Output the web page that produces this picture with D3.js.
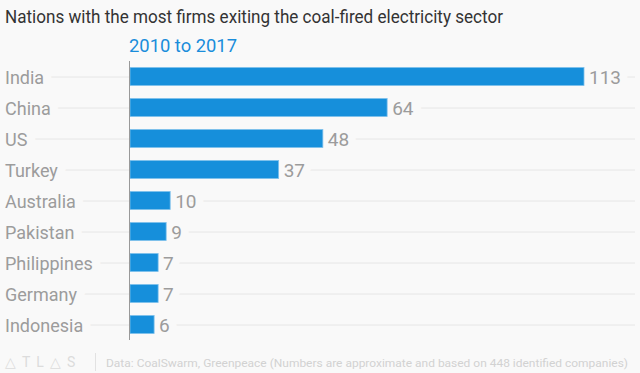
<!DOCTYPE html>
<html>
<head>
<meta charset="utf-8">
<script src="https://cdn.jsdelivr.net/npm/d3@7"></script>
<style>
  body { margin: 0; background: #f9f9f9; }
  svg { display: block; }
  text { font-family: Roboto, "Noto Sans", sans-serif; }
</style>
</head>
<body>
<div id="chart"></div>
<script>
var countries = ['India', 'China', 'US', 'Turkey', 'Australia', 'Pakistan', 'Philippines', 'Germany', 'Indonesia'];
var firms = [113, 64, 48, 37, 10, 9, 7, 7, 6];

var width = 640,
  height = 373,
  bg = '#f9f9f9';

var data = countries.map((c, i) => ({ country: c, value: firms[i] }));

var svg = d3.select('#chart').append('svg')
  .attr('width', width)
  .attr('height', height);

svg.append('rect')
  .attr('width', width)
  .attr('height', height)
  .attr('fill', bg);

var x = d3.scaleLinear()
  .domain([0, 113])
  .range([130, 584]);

var y = d3.scaleBand()
  .domain(countries)
  .range([61, 340])
  .paddingInner(0.42)
  .paddingOuter(0.21);

// title
svg.append('text')
  .attr('x', 5)
  .attr('y', 23)
  .attr('fill', '#333')
  .attr('font-size', 19)
  .attr('textLength', 498)
  .attr('lengthAdjust', 'spacingAndGlyphs')
  .text('Nations with the most firms exiting the coal-fired electricity sector');

svg.append('text')
  .attr('x', 129)
  .attr('y', 52)
  .attr('fill', '#1a8ddb')
  .attr('font-size', 18)
  .attr('textLength', 108)
  .attr('lengthAdjust', 'spacingAndGlyphs')
  .text('2010 to 2017');

// grid lines through the bar centres
svg.append('g')
  .selectAll('line')
  .data(data)
  .join('line')
  .attr('x1', 0)
  .attr('x2', 635)
  .attr('y1', d => y(d.country) + y.bandwidth() / 2 + 0.5)
  .attr('y2', d => y(d.country) + y.bandwidth() / 2 + 0.5)
  .attr('stroke', '#e6e6e6')
  .attr('stroke-width', 1);

// category labels, stroked with background to cut the grid
svg.append('g')
  .selectAll('text')
  .data(data)
  .join('text')
  .attr('x', 5)
  .attr('y', d => y(d.country) + y.bandwidth() / 2 + 7)
  .attr('fill', '#9c9c9c')
  .attr('font-size', 18)
  .attr('stroke', bg)
  .attr('stroke-width', 17)
  .attr('paint-order', 'stroke')
  .text(d => d.country);

// value labels (drawn before the bars so the halo sits under them)
svg.append('g')
  .selectAll('text')
  .data(data)
  .join('text')
  .attr('x', d => x(d.value) + 5)
  .attr('y', d => y(d.country) + y.bandwidth() / 2 + 7)
  .attr('fill', '#9c9c9c')
  .attr('font-size', 19)
  .attr('stroke', bg)
  .attr('stroke-width', 16)
  .attr('paint-order', 'stroke')
  .text(d => d.value);

// bars
svg.append('g')
  .selectAll('rect')
  .data(data)
  .join('rect')
  .attr('x', x(0))
  .attr('y', d => y(d.country))
  .attr('width', d => x(d.value) - x(0))
  .attr('height', y.bandwidth())
  .attr('fill', '#168fdb')
  .attr('stroke', '#7ec0ec')
  .attr('stroke-width', 0.8);

// axis line
svg.append('line')
  .attr('x1', 129.5)
  .attr('x2', 129.5)
  .attr('y1', 61)
  .attr('y2', 340)
  .attr('stroke', '#999')
  .attr('stroke-width', 1);

// footer
var footer = svg.append('g');

footer.append('text')
  .attr('x', 5)
  .attr('y', 367)
  .attr('fill', '#dcdcdc')
  .attr('font-size', 14)
  .attr('letter-spacing', 6)
  .text('\u25B3TL\u25B3S');

footer.append('line')
  .attr('x1', 95.5)
  .attr('x2', 95.5)
  .attr('y1', 353)
  .attr('y2', 371)
  .attr('stroke', '#e2e2e2');

footer.append('text')
  .attr('x', 106)
  .attr('y', 367)
  .attr('fill', '#d2d2d2')
  .attr('font-size', 11.5)
  .attr('textLength', 522)
  .attr('lengthAdjust', 'spacingAndGlyphs')
  .text('Data: CoalSwarm, Greenpeace (Numbers are approximate and based on 448 identified companies)');
</script>
</body>
</html>
